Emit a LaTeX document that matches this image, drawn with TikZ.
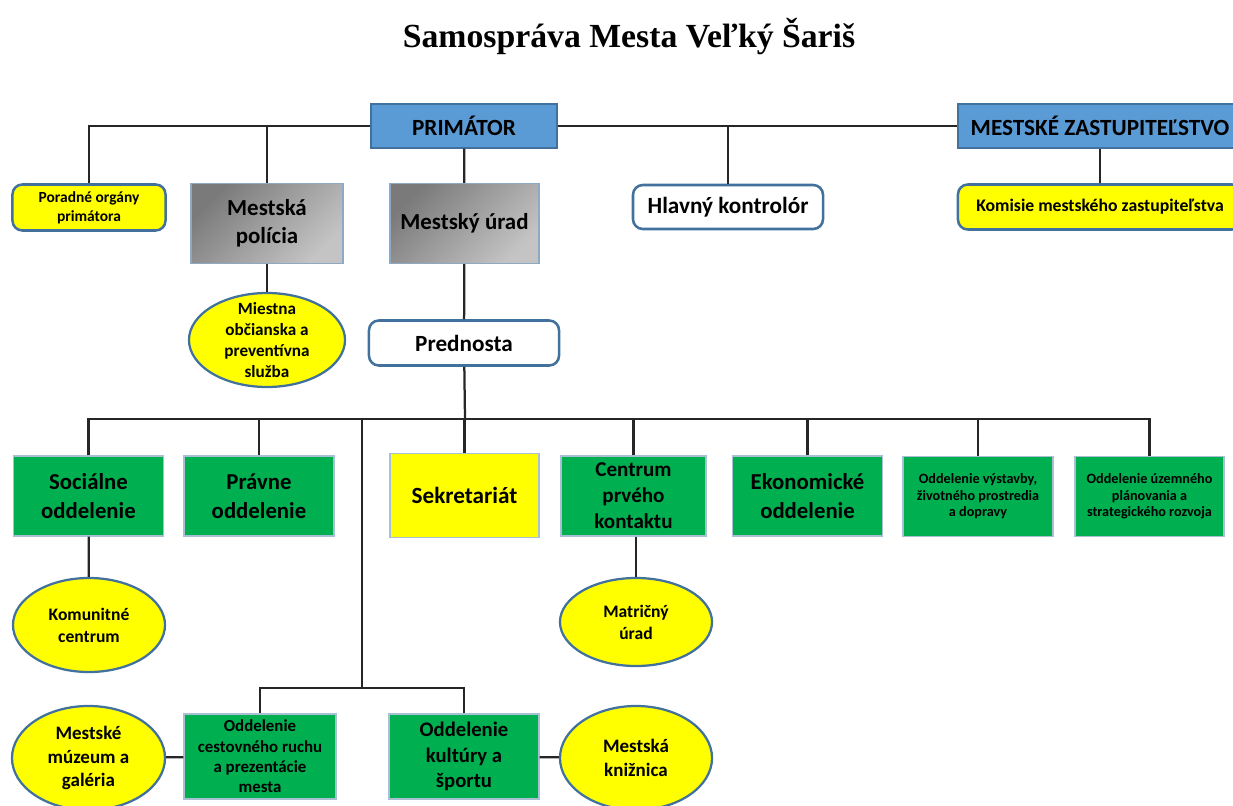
\documentclass[tikz,border=0pt]{standalone}
\usepackage{fontspec}
\setmainfont{Carlito}
\newfontfamily\titlefont{Liberation Serif}
\usetikzlibrary{shapes.geometric}
\definecolor{cblue}{HTML}{5B9BD5}
\definecolor{cgreen}{HTML}{00B050}
\definecolor{cyellow}{HTML}{FFFF00}
\definecolor{cedge}{HTML}{41719C}
\definecolor{cline}{HTML}{262626}
\definecolor{cgreyd}{HTML}{7A7A7A}
\definecolor{cgreyl}{HTML}{C4C4C4}
\newcommand{\setfs}[2]{\fontsize{#1}{#2}\selectfont}
\tikzset{
  every picture/.style={line width=1.6pt},
  box/.style={draw=cedge, fill=#1, align=center, inner sep=2pt, line width=0.8pt, font=\bfseries},
  box/.default=white,
  roundbox/.style={box=#1, rounded corners=7pt, line width=1.8pt},
  greybox/.style={box, draw=cedge!60, left color=cgreyd, right color=cgreyl, shading angle=45},
  oval/.style={ellipse, draw=cedge, fill=cyellow, line width=1.6pt, inner sep=0pt},
  link/.style={draw=cline, line width=1.6pt},
  title/.style={font=\titlefont\bfseries\setfs{24}{28}},
}

\begin{document}
\begin{tikzpicture}[x=0.025cm, y=-0.025cm]
  \useasboundingbox (0,0) rectangle (1233,806);
  \tikzset{dept/.style={box=cgreen, draw=cedge!45, minimum width=3.75cm, minimum height=2cm, font=\bfseries\setfs{16.2}{21}}}
  \node[title] (title) at (629,36) {Samospráva Mesta Veľký Šariš};
  % top level
  \node[box=cblue, minimum width=4.65cm, minimum height=1.1cm, font=\bfseries\setfs{16.5}{19}] (prim) at (464,126) {PRIMÁTOR};
  \node[box=cblue, minimum width=7.1cm, minimum height=1.1cm, font=\bfseries\setfs{16.5}{19}] (zast) at (1100,126) {MESTSKÉ ZASTUPITEĽSTVO};
  \node[roundbox=cyellow, minimum width=3.825cm, minimum height=1.15cm, font=\bfseries\setfs{11}{13.5}] (poradne) at (89,207.5) {Poradné orgány\\primátora};
  \node[greybox, minimum width=3.8cm, minimum height=2cm, font=\bfseries\setfs{16.3}{20}] (policia) at (267,223.5) {Mestská\\polícia};
  \node[greybox, minimum width=3.725cm, minimum height=2cm, font=\bfseries\setfs{16.3}{20}] (urad) at (464.5,223.5) {Mestský úrad};
  \node[roundbox, minimum width=4.75cm, minimum height=1.1cm, font=\bfseries\setfs{16.5}{19}] (kontrolor) at (728,207) {Hlavný kontrolór};
  \node[roundbox=cyellow, minimum width=7.1cm, minimum height=1.125cm, font=\bfseries\setfs{12.6}{15}] (komisie) at (1100,207) {Komisie mestského zastupiteľstva};
  \node[oval, minimum width=3.9cm, minimum height=2.35cm, label={[align=center, font=\bfseries\setfs{12.2}{15}]center:Miestna\\občianska a\\preventívna\\služba}] (sluzba) at (267,340) {};
  \node[roundbox, minimum width=4.75cm, minimum height=1.125cm, font=\bfseries\setfs{16.5}{19}] (prednosta) at (464,343) {Prednosta};
  \draw[link] (poradne.north) |- (prim.west);
  \draw[link] (policia.north) -- (policia.north |- prim.west);
  \draw[link] (prim.east) -- (zast.west);
  \draw[link] (kontrolor.north) -- (kontrolor.north |- prim.east);
  \draw[link] (prim) -- (urad);
  \draw[link] (zast) -- (komisie);
  \draw[link] (policia) -- (sluzba);
  \draw[link] (urad) -- (prednosta);
  % departments
  \node[dept] (socialne) at (88.5,496) {Sociálne\\oddelenie};
  \node[dept] (pravne) at (259,496) {Právne\\oddelenie};
  \node[box=cyellow, draw=cedge!45, minimum width=3.725cm, minimum height=2.1cm, font=\bfseries\setfs{16.5}{19}] (sekretariat) at (464.5,495.5) {Sekretariát};
  \node[dept, minimum width=3.625cm, font=\bfseries\setfs{15}{18.5}] (centrum) at (633.5,496) {Centrum\\prvého\\kontaktu};
  \node[dept] (ekonomicke) at (807.5,496) {Ekonomické\\oddelenie};
  \node[dept, font=\bfseries\setfs{10.1}{11.8}] (vystavby) at (978,496.5) {Oddelenie výstavby,\\životného prostredia\\a dopravy};
  \node[dept, minimum width=3.725cm, font=\bfseries\setfs{10.1}{11.8}] (uzemne) at (1149.5,496.5) {Oddelenie územného\\plánovania a\\strategického rozvoja};
  \coordinate (bus) at (465,419);
  \coordinate (split) at (362,419);
  \coordinate (fork) at (362,688);
  \draw[link] (prednosta) -- (bus);
  \foreach \n in {socialne, pravne, sekretariat, centrum, ekonomicke, vystavby, uzemne}
    \draw[link] (\n.north) |- (bus);
  \draw[link] (split) -- (fork);
  % lower units
  \node[oval, minimum width=3.8cm, minimum height=2.35cm, label={[align=center, font=\bfseries\setfs{12.5}{15.5}]center:Komunitné\\centrum}] (komunitne) at (89,625) {};
  \node[oval, minimum width=3.8cm, minimum height=2.2cm, label={[align=center, font=\bfseries\setfs{12.5}{15.5}]center:Matričný\\úrad}] (matricny) at (636,622) {};
  \draw[link] (socialne) -- (komunitne);
  \draw[link] (centrum.south -| matricny.north) -- (matricny);
  \node[box=cgreen, draw=cedge!45, minimum width=3.8cm, minimum height=2.125cm, font=\bfseries\setfs{12}{14.5}] (cestovny) at (260,756.5) {Oddelenie\\cestovného ruchu\\a prezentácie\\mesta};
  \node[box=cgreen, draw=cedge!45, minimum width=3.75cm, minimum height=2.125cm, font=\bfseries\setfs{14.7}{18}] (kultura) at (464,756.5) {Oddelenie\\kultúry a\\športu};
  \node[oval, minimum width=3.825cm, minimum height=2.6cm, label={[align=center, font=\bfseries\setfs{13.5}{16.7}]center:Mestské\\múzeum a\\galéria}] (muzeum) at (88.5,758) {};
  \node[oval, minimum width=3.8cm, minimum height=2.6cm, label={[align=center, font=\bfseries\setfs{13.5}{16.7}]center:Mestská\\knižnica}] (kniznica) at (636,758) {};
  \draw[link] (cestovny.north) |- (fork);
  \draw[link] (kultura.north) |- (fork);
  \draw[link] (muzeum) -- (cestovny);
  \draw[link] (kultura) -- (kniznica);
\end{tikzpicture}
\end{document}
